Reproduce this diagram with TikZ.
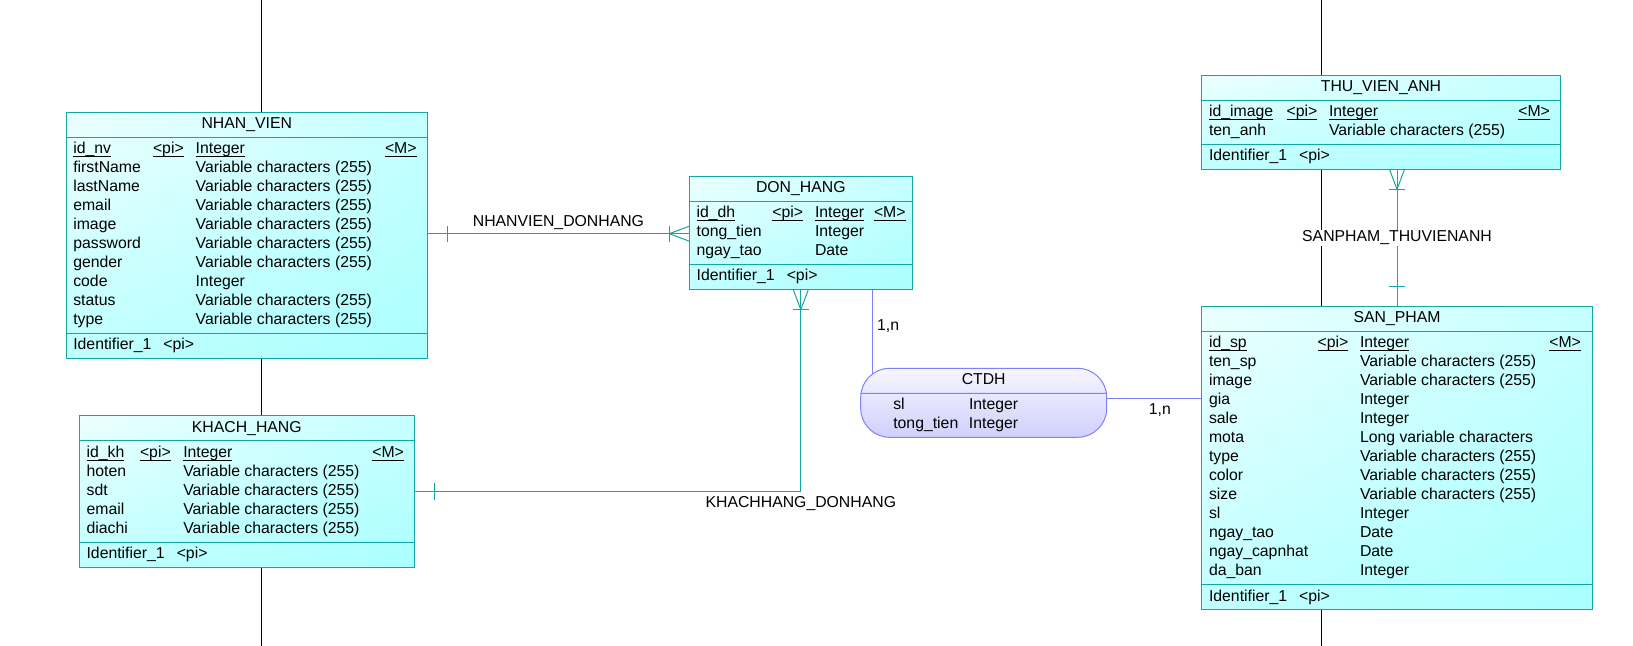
\documentclass[tikz,border=0pt]{standalone}
\usepackage{fontspec}
\setmainfont{Liberation Sans}
\usetikzlibrary{shapes.multipart, shadings, backgrounds}
\definecolor{erteal}{RGB}{20,165,165}
\definecolor{erblue}{RGB}{128,128,255}
\newcommand{\pkey}[1]{\underline{\smash{#1}}}
\tikzset{
    entity/.style={rectangle split, rectangle split parts=3,
        rectangle split part align={center,left,left},
        draw=erteal, line width=0.5pt,
        upper left={rgb,255:red,236;green,255;blue,255},
        upper right={rgb,255:red,198;green,255;blue,255},
        lower left={rgb,255:red,192;green,255;blue,255},
        lower right={rgb,255:red,170;green,255;blue,255},
        inner xsep=3.65pt, inner ysep=1.25pt, outer sep=0pt, anchor=north west}, % one table
    assocbox/.style={rectangle split, rectangle split parts=2,
        rectangle split part align={center,left},
        rounded corners=14.5pt, draw=erblue, line width=0.5pt,
        top color={rgb,255:red,246;green,246;blue,255},
        bottom color={rgb,255:red,208;green,208;blue,252},
        inner xsep=3.65pt, inner ysep=1.25pt, outer sep=0pt, anchor=north west}, % association
    rel/.style={draw=erteal, line width=0.5pt}, % entity to entity
    assocline/.style={draw=erblue, line width=0.5pt}, % association links
    refline/.style={draw=black, line width=0.5pt},
    lbl/.style={text=black, inner sep=2pt},
    crowfoot/.pic={\draw[rel] (0,-7.5) -- (-20,0) -- (0,7.5); \draw[rel] (-20,-8) -- (-20,8);},
    onebar/.pic={\draw[rel] (-20,-8) -- (-20,8);},
    }

\begin{document}
\begin{tikzpicture}[x=0.5pt, y=-0.5pt, font=\fontsize{7.9}{9.5}\selectfont]
\useasboundingbox (0,0) rectangle (1633,646);

\node[entity] (nv) at (66,112.7) {NHAN\_VIEN\strut
\nodepart{two}\begin{tabular}{@{}p{39.85pt}@{}p{21.35pt}@{}p{94.65pt}@{}p{17.65pt}@{}}
\pkey{id\_nv} & \pkey{<pi>} & \pkey{Integer} & \pkey{<M>}\\
firstName & & Variable characters (255) & \\
lastName & & Variable characters (255) & \\
email & & Variable characters (255) & \\
image & & Variable characters (255) & \\
password & & Variable characters (255) & \\
gender & & Variable characters (255) & \\
code & & Integer & \\
status & & Variable characters (255) & \\
type & & Variable characters (255) & \\
\end{tabular}
\nodepart{three}Identifier\_1\hspace{6pt}<pi>\strut};

\node[entity] (kh) at (79.3,416) {KHACH\_HANG\strut
\nodepart{two}\begin{tabular}{@{}p{26.7pt}@{}p{21.65pt}@{}p{94.5pt}@{}p{17.35pt}@{}}
\pkey{id\_kh} & \pkey{<pi>} & \pkey{Integer} & \pkey{<M>}\\
hoten & & Variable characters (255) & \\
sdt & & Variable characters (255) & \\
email & & Variable characters (255) & \\
diachi & & Variable characters (255) & \\
\end{tabular}
\nodepart{three}Identifier\_1\hspace{6pt}<pi>\strut};

\node[entity] (dh) at (689.3,176.7) {DON\_HANG\strut
\nodepart{two}\begin{tabular}{@{}p{37.85pt}@{}p{21.35pt}@{}p{29.5pt}@{}p{15.5pt}@{}}
\pkey{id\_dh} & \pkey{<pi>} & \pkey{Integer} & \pkey{<M>}\\
tong\_tien & & Integer & \\
ngay\_tao & & Date & \\
\end{tabular}
\nodepart{three}Identifier\_1\hspace{6pt}<pi>\strut};

\node[entity] (tva) at (1201.7,75.3) {THU\_VIEN\_ANH\strut
\nodepart{two}\begin{tabular}{@{}p{38.85pt}@{}p{21.15pt}@{}p{94.65pt}@{}p{17.35pt}@{}}
\pkey{id\_image} & \pkey{<pi>} & \pkey{Integer} & \pkey{<M>}\\
ten\_anh & & Variable characters (255) & \\
\end{tabular}
\nodepart{three}Identifier\_1\hspace{6pt}<pi>\strut};

\node[entity] (sp) at (1201.7,306.7) {SAN\_PHAM\strut
\nodepart{two}\begin{tabular}{@{}p{54.35pt}@{}p{21.15pt}@{}p{94.65pt}@{}p{17.85pt}@{}}
\pkey{id\_sp} & \pkey{<pi>} & \pkey{Integer} & \pkey{<M>}\\
ten\_sp & & Variable characters (255) & \\
image & & Variable characters (255) & \\
gia & & Integer & \\
sale & & Integer & \\
mota & & Long variable characters & \\
type & & Variable characters (255) & \\
color & & Variable characters (255) & \\
size & & Variable characters (255) & \\
sl & & Integer & \\
ngay\_tao & & Date & \\
ngay\_capnhat & & Date & \\
da\_ban & & Integer & \\
\end{tabular}
\nodepart{three}Identifier\_1\hspace{6pt}<pi>\strut};

\node[assocbox] (ctdh) at (860.7,368.3) {CTDH\strut
\nodepart{two}\begin{tabular}{@{\hspace{12.65pt}}p{37.85pt}@{}p{65.2pt}@{}}
sl & Integer\\
tong\_tien & Integer\\
\end{tabular}};

\begin{scope}[on background layer]
% grid lines behind the tables
\coordinate (lt) at (261.7,0);
\coordinate (lb) at (261.7,646);
\coordinate (rt) at (1321.7,0);
\coordinate (rb) at (1321.7,646);
\draw[refline] (lt) -- (lb);
\draw[refline] (rt) -- (rb);

% relations
\coordinate (a1) at ([yshift=1pt]nv.east);
\coordinate (a2) at (a1 -| dh.west);
\draw[rel] (a1) -- node[lbl, above]{NHANVIEN\_DONHANG} (a2);
\pic[rotate=180] at (a1) {onebar};
\pic at (a2) {crowfoot};

\draw[rel] (kh.east) -| node[lbl, below, pos=0.5]{KHACHHANG\_DONHANG} (dh.south);
\pic[rotate=180] at (kh.east) {onebar};
\pic[rotate=90] at (dh.south) {crowfoot};

\coordinate (b1) at (sp.north |- tva.south);
\draw[rel] (b1) -- node[lbl, fill=white, inner ysep=0.5pt]{SANPHAM\_THUVIENANH} (sp.north);
\pic[rotate=90] at (b1) {crowfoot};
\pic[rotate=-90] at (sp.north) {onebar};

% association links
\coordinate (c1) at ([xshift=6pt]ctdh.north west);
\draw[assocline] (c1 |- dh.south) -- node[lbl, right, pos=0.32]{1,n} (c1 |- ctdh.west);
\coordinate (c2) at ([yshift=2pt]ctdh.east);
\draw[assocline] (c2) -- node[lbl, below, pos=0.56]{1,n} (c2 -| sp.west);
\end{scope}

\end{tikzpicture}
\end{document}
